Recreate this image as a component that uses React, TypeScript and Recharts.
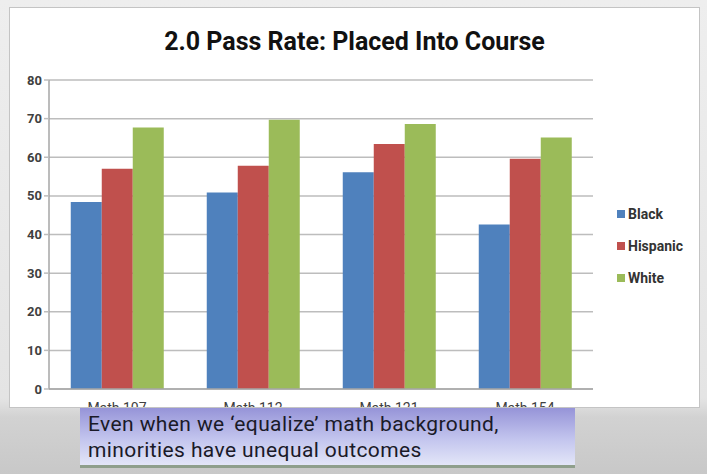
// @ts-nocheck
import { BarChart, Bar, XAxis, YAxis, CartesianGrid, Legend } from 'recharts'

const courses = ['Math 107', 'Math 112', 'Math 121', 'Math 154']
const black = [48.4, 50.9, 56.1, 42.6]
const hispanic = [57.0, 57.8, 63.4, 59.6]
const white = [67.7, 69.7, 68.6, 65.1]
const yTicks = [0, 10, 20, 30, 40, 50, 60, 70, 80]
const boundaryTicks = [0, 1, 2, 3, 4]

const series = [
  { key: 'black', name: 'Black', color: '#4f81bd' },
  { key: 'hispanic', name: 'Hispanic', color: '#c0504d' },
  { key: 'white', name: 'White', color: '#9bbb59' },
]

const data = courses.map((c, i) => ({
  course: c,
  black: black[i],
  hispanic: hispanic[i],
  white: white[i],
}))

const font = 'Roboto, "Noto Sans", sans-serif'

function LegendBox() {
  return (
    <div style={{ fontFamily: font, fontSize: 14, fontWeight: 700, color: '#333' }}>
      {series.map(s => (
        <div key={s.key} style={{ display: 'flex', alignItems: 'center', height: 32 }}>
          <span style={{ width: 8, height: 8, background: s.color, marginRight: 3, display: 'inline-block' }} />
          {s.name}
        </div>
      ))}
    </div>
  )
}

export default function App() {
  return (
    <div
      style={{
        position: 'absolute',
        left: 0,
        top: 0,
        width: 707,
        height: 474,
        overflow: 'hidden',
        background: 'linear-gradient(#eeeeee 0%, #e4e4e4 84%, #d2d2d2 88%, #c8c8c8 100%)',
      }}
    >
      {/* slide panel */}
      <div
        style={{
          position: 'absolute',
          left: 9,
          top: 7,
          width: 689,
          height: 399,
          background: '#fff',
          border: '1px solid #c4c4c4',
          overflow: 'hidden',
        }}
      >
        <div
          style={{
            position: 'absolute',
            top: 19,
            width: '100%',
            textAlign: 'center',
            fontFamily: font,
            fontWeight: 700,
            fontSize: 25,
            color: '#111',
          }}
        >
          2.0 Pass Rate: Placed Into Course
        </div>
        <BarChart
          width={689}
          height={430}
          data={data}
          margin={{ top: 72, right: 25, left: 9, bottom: 18 }}
          barCategoryGap="16%"
          barGap={0}
        >
          <CartesianGrid vertical={false} stroke="#bdbdbd" strokeWidth={1.5} />
          <YAxis
            domain={[0, 80]}
            ticks={yTicks}
            width={30}
            axisLine={{ stroke: '#a6a6a6', strokeWidth: 1.5 }}
            tickLine={{ stroke: '#bdbdbd', strokeWidth: 1.5 }}
            tickSize={5}
            tick={{ fontFamily: font, fontSize: 13, fontWeight: 700, fill: '#404040' }}
          />
          <XAxis
            dataKey="course"
            axisLine={{ stroke: '#a6a6a6', strokeWidth: 1.5 }}
            tickLine={false}
            tick={{ fontFamily: font, fontSize: 14, fill: '#404040' }}
            dy={6}
          />
          <XAxis
            xAxisId="b"
            type="number"
            domain={[0, 4]}
            ticks={boundaryTicks}
            axisLine={false}
            tick={false}
            tickLine={{ stroke: '#a6a6a6' }}
            tickSize={5}
            height={1}
          />
          <Legend
            layout="vertical"
            align="right"
            verticalAlign="middle"
            width={81}
            content={() => <LegendBox />}
            wrapperStyle={{ left: 607, top: 190 }}
          />
          {series.map(s => (
            <Bar key={s.key} dataKey={s.key} name={s.name} fill={s.color} isAnimationActive={false} />
          ))}
        </BarChart>
      </div>

      {/* caption box */}
      <div
        style={{
          position: 'absolute',
          left: 80,
          top: 408,
          width: 495,
          height: 60,
          background: 'linear-gradient(#9694d8 0%, #c3c5ee 55%, #e3e6f8 100%)',
          borderBottom: '3px solid #8f9f8c',
          boxSizing: 'border-box',
          padding: '3px 0 0 8px',
          fontFamily: font,
          fontSize: 21,
          letterSpacing: 0.4,
          lineHeight: '26px',
          color: '#1a1a28',
        }}
      >
        Even when we ‘equalize’ math background,
        <br />
        minorities have unequal outcomes
      </div>
    </div>
  )
}
